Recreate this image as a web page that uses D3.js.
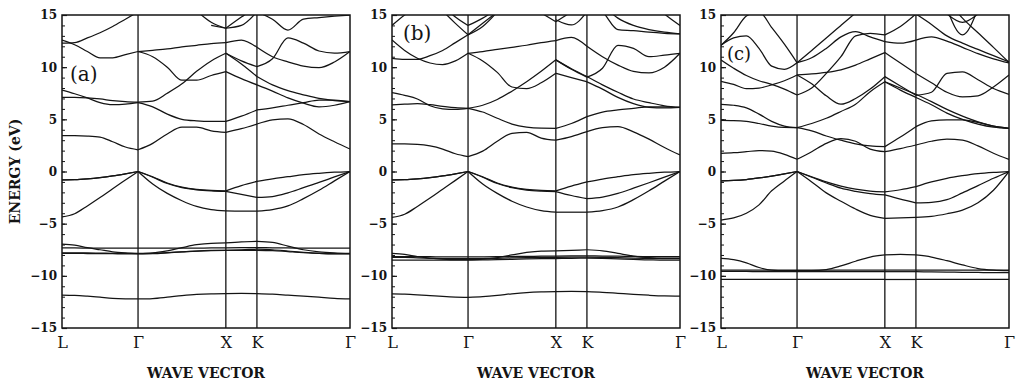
<!DOCTYPE html>
<html>
<head>
<meta charset="utf-8">
<script src="https://cdn.jsdelivr.net/npm/d3@7"></script>
<style>
  body { margin: 0; background: #fff; }
  svg { display: block; }
</style>
</head>
<body>
<div id="chart"></div>
<script>
// high-symmetry points along the fcc path L-Γ-X-K-Γ (path length units)
const kLabels = ["L", "Γ", "X", "K", "Γ"];
const kPos = [0, 0.866, 1.866, 2.220, 3.280];
// sample points the bands were read at
const kGrid = [0, 0.144, 0.289, 0.433, 0.577, 0.722, 0.866,
               1.033, 1.199, 1.366, 1.533, 1.699, 1.866,
               2.043, 2.220,
               2.397, 2.573, 2.750, 2.927, 3.103, 3.280];
const segments = [[0, 6], [6, 12], [12, 14], [14, 20]];
const yTicks = [-15, -10, -5, 0, 5, 10, 15];
const panelNames = ["(a)", "(b)", "(c)"];
const _ = null;

// panel (a) bands, eV
const bandsA = [
  [-0.8,-0.78,-0.7,-0.58,-0.42,-0.22,0, -0.5,-1.1,-1.5,-1.72,-1.82,-1.85, -1.35,-0.95, -0.7,-0.5,-0.3,-0.17,-0.07,0],
  [-0.8,-0.78,-0.7,-0.58,-0.42,-0.22,0, -0.55,-1.15,-1.55,-1.75,-1.85,-1.9, -2.2,-2.48, -2.4,-2.05,-1.55,-1.05,-0.52,0],
  [-4.35,-4.05,-3.3,-2.5,-1.65,-0.82,0, -1.2,-2.1,-2.8,-3.35,-3.65,-3.78, -3.8,-3.8, -3.65,-3.3,-2.6,-1.8,-0.9,0],
  [-6.95,-7.05,-7.3,-7.5,-7.7,-7.8,-7.85, -7.8,-7.6,-7.3,-7.02,-6.88,-6.85, -6.75,-6.7, -6.8,-7.15,-7.5,-7.7,-7.8,-7.85],
  [-7.33,-7.33,-7.34,-7.35,-7.35,-7.35,-7.35, -7.35,-7.35,-7.35,-7.34,-7.33,-7.32, -7.3,-7.3, -7.31,-7.33,-7.34,-7.35,-7.35,-7.35],
  [-7.85,-7.85,-7.86,-7.87,-7.88,-7.9,-7.9, -7.88,-7.8,-7.7,-7.62,-7.57,-7.55, -7.5,-7.45, -7.5,-7.62,-7.75,-7.85,-7.9,-7.9],
  [-7.8,-7.8,-7.8,-7.82,-7.84,-7.85,-7.86, -7.84,-7.78,-7.7,-7.62,-7.58,-7.57, -7.55,-7.55, -7.58,-7.68,-7.78,-7.84,-7.87,-7.88],
  [-11.84,-11.87,-11.95,-12.05,-12.15,-12.2,-12.22, -12.18,-12.05,-11.9,-11.78,-11.72,-11.7, -11.68,-11.7, -11.75,-11.85,-11.95,-12.05,-12.15,-12.2],
  [3.43,3.43,3.4,3.3,2.85,2.35,2.08, 2.7,3.6,4.25,4.25,3.9,3.76, 4.1,4.55, 4.95,5.05,4.5,3.6,2.85,2.15],
  [7.8,7.45,7.05,6.6,6.4,6.45,6.6, 6.2,5.5,5.0,4.85,4.8,4.8, 5.3,5.9, 6.1,6.35,6.6,6.85,6.85,6.7],
  [7.1,7.1,7.05,6.95,6.8,6.7,6.65, 6.75,7.5,8.4,9.6,10.6,11.33, 10.3,9.1, 8.3,7.75,7.35,7.0,6.8,6.7],
  [12.6,12.15,11.5,10.9,10.9,11.2,11.5, 11.0,10.0,8.75,8.75,9.2,9.57, 8.9,8.3, 7.7,7.05,6.55,6.2,6.35,6.7],
  [_,_,_,_,_,_,11.5, 11.62,11.75,11.95,12.1,12.25,12.35, 12.6,11.9, 11.0,10.5,10.1,9.95,10.5,11.5],
  [_,_,_,_,_,_,_, _,_,_,_,_,11.33, 10.6,10.05, 10.8,12.8,12.3,11.55,11.35,11.5],
  [12.3,12.35,12.8,13.3,13.9,14.6,15.3, _,_,_,_,_,_, _,_, _,_,_,_,_,_],
  [_,_,_,_,_,_,_, _,_,_,15.4,14.3,13.73, 14.0,15.3, _,_,_,_,_,_],
  [_,_,_,_,_,_,_, _,_,_,_,14.0,13.73, 14.8,15.8, _,_,_,_,_,_],
  [_,_,_,_,_,_,_, _,_,_,_,_,_, _,15.3, 14.6,13.55,14.6,14.75,14.88,15.0]
];

// panel (b) bands, eV
const bandsB = [
  [-0.8,-0.78,-0.7,-0.58,-0.42,-0.22,0, -0.5,-1.1,-1.5,-1.72,-1.82,-1.85, -1.4,-1.0, -0.72,-0.5,-0.3,-0.17,-0.07,0],
  [-0.8,-0.78,-0.7,-0.58,-0.42,-0.22,0, -0.55,-1.15,-1.55,-1.78,-1.88,-1.92, -2.3,-2.6, -2.45,-2.1,-1.6,-1.08,-0.54,0],
  [-4.4,-4.1,-3.35,-2.55,-1.7,-0.85,0, -1.2,-2.1,-2.85,-3.4,-3.75,-3.9, -3.9,-3.9, -3.75,-3.4,-2.7,-1.85,-0.92,0],
  [-7.85,-7.95,-8.15,-8.3,-8.4,-8.45,-8.45, -8.4,-8.25,-8.0,-7.75,-7.62,-7.6, -7.55,-7.5, -7.6,-7.85,-8.1,-8.25,-8.3,-8.3],
  [-8.15,-8.15,-8.16,-8.17,-8.18,-8.18,-8.18, -8.18,-8.17,-8.15,-8.13,-8.12,-8.1, -8.08,-8.08, -8.1,-8.12,-8.14,-8.15,-8.15,-8.15],
  [-8.5,-8.5,-8.5,-8.5,-8.5,-8.5,-8.5, -8.48,-8.45,-8.42,-8.38,-8.36,-8.35, -8.32,-8.3, -8.33,-8.38,-8.43,-8.47,-8.5,-8.5],
  [-8.22,-8.24,-8.28,-8.32,-8.35,-8.36,-8.36, -8.35,-8.32,-8.28,-8.25,-8.23,-8.22, -8.2,-8.2, -8.22,-8.26,-8.3,-8.33,-8.35,-8.35],
  [-11.74,-11.76,-11.82,-11.9,-11.98,-12.04,-12.06, -12.0,-11.88,-11.72,-11.6,-11.54,-11.52, -11.5,-11.52, -11.58,-11.68,-11.78,-11.86,-11.92,-11.94],
  [2.64,2.64,2.6,2.45,2.15,1.7,1.42, 1.95,2.9,3.65,3.75,3.2,3.0, 3.35,3.82, 4.2,4.3,3.8,3.1,2.3,1.58],
  [7.56,7.3,6.95,6.3,6.0,5.95,6.06, 5.7,5.1,4.55,4.25,4.15,4.14, 4.6,5.26, 5.7,5.9,6.05,6.2,6.2,6.15],
  [6.38,6.45,6.5,6.4,6.25,6.12,6.06, 6.35,6.9,7.7,8.6,9.6,10.7, 9.85,9.1, 8.3,7.6,6.95,6.6,6.3,6.15],
  [12.6,11.6,10.85,10.4,10.25,10.6,11.33, 10.6,9.5,8.1,7.95,8.5,9.41, 9.0,8.6, 7.9,7.1,6.5,6.15,6.1,6.15],
  [_,_,_,_,_,_,11.33, 11.5,11.7,11.9,12.1,12.35,12.55, 12.85,12.0, 11.0,10.2,9.6,9.45,10.0,11.33],
  [_,_,_,_,_,_,_, _,_,_,_,_,10.7, 9.8,9.05, 9.9,12.1,11.8,11.0,11.15,11.33],
  [14.0,15.0,15.8,_,_,_,_, _,_,_,_,_,_, _,_, _,_,_,_,_,_],
  [10.85,10.75,10.75,11.1,11.6,12.35,13.1, 14.2,15.3,_,_,_,_, _,_, _,_,_,_,_,_],
  [_,_,_,_,15.4,14.2,13.1, 13.9,15.3,_,_,_,_, _,_, _,_,_,_,_,_],
  [_,_,_,_,16.0,14.8,14.0, 14.7,15.6,_,_,_,_, _,_, _,_,_,_,_,_],
  [_,_,_,_,_,_,_, _,_,_,_,15.2,14.35, 15.3,_, _,_,_,_,_,_],
  [_,_,_,_,_,_,_, _,_,_,_,_,14.55, 14.05,15.3, _,_,_,_,_,_],
  [_,_,_,_,_,_,_, _,_,_,_,_,_, _,16.0, 15.3,13.6,13.5,13.35,13.25,13.2],
  [_,_,_,_,_,_,_, _,_,_,_,_,_, _,_, 16.0,14.7,14.0,13.6,13.35,13.2],
  [_,_,_,_,_,_,_, _,_,_,_,_,_, _,_, _,_,_,16.5,15.1,14.0]
];

// panel (c) bands, eV
const bandsC = [
  [-0.9,-0.86,-0.77,-0.62,-0.44,-0.23,0, -0.5,-1.0,-1.4,-1.7,-1.88,-1.95, -1.75,-1.45, -1.0,-0.65,-0.4,-0.2,-0.08,0],
  [-0.9,-0.86,-0.77,-0.62,-0.44,-0.23,0, -0.55,-1.1,-1.6,-1.9,-2.12,-2.25, -2.65,-3.0, -2.95,-2.7,-2.05,-1.35,-0.65,0],
  [-4.65,-4.45,-4.0,-3.2,-1.85,-0.9,0, -1.0,-2.05,-2.85,-3.6,-4.2,-4.49, -4.45,-4.39, -4.3,-4.05,-3.7,-3.0,-1.8,0],
  [-8.33,-8.45,-8.75,-9.2,-9.45,-9.5,-9.5, -9.5,-9.4,-9.05,-8.6,-8.2,-8.0, -7.95,-8.0, -8.2,-8.55,-8.95,-9.3,-9.45,-9.5],
  [-9.45,-9.45,-9.45,-9.45,-9.45,-9.45,-9.45, -9.45,-9.45,-9.45,-9.45,-9.45,-9.45, -9.45,-9.45, -9.45,-9.45,-9.45,-9.45,-9.45,-9.45],
  [-9.58,-9.58,-9.58,-9.6,-9.6,-9.6,-9.6, -9.6,-9.6,-9.6,-9.6,-9.6,-9.6, -9.6,-9.6, -9.62,-9.64,-9.66,-9.68,-9.7,-9.7],
  [-10.35,-10.35,-10.35,-10.35,-10.35,-10.35,-10.35, -10.35,-10.35,-10.35,-10.35,-10.35,-10.35, -10.35,-10.35, -10.35,-10.35,-10.35,-10.35,-10.35,-10.35],
  [1.74,1.8,1.9,2.0,1.95,1.65,1.17, 1.9,2.7,3.15,2.9,2.15,1.9, 2.2,2.54, 2.9,3.1,3.0,2.45,1.75,1.15],
  [4.9,4.88,4.8,4.6,4.35,4.22,4.2, 3.9,3.4,3.0,2.65,2.45,2.38, 3.3,4.3, 4.85,4.95,4.95,4.7,4.35,4.14],
  [6.44,6.35,6.1,5.5,4.8,4.35,4.2, 4.6,5.1,5.75,6.45,7.65,8.6, 8.0,7.4, 6.7,5.95,5.3,4.75,4.35,4.14],
  [_,_,_,_,_,_,_, _,_,_,_,_,8.6, 7.8,7.1, 6.4,5.6,5.0,4.55,4.25,4.14],
  [10.69,9.9,9.2,8.7,8.35,7.9,7.33, 8.0,9.4,11.0,13.0,13.25,13.09, 13.9,15.1, 14.1,13.0,12.3,11.7,11.1,10.5],
  [8.65,8.35,7.95,8.0,8.3,8.7,9.25, 8.4,7.25,6.45,7.0,7.9,9.09, 8.2,7.3, 7.6,9.4,9.55,8.8,7.95,7.4],
  [12.1,12.8,13.0,11.8,10.1,9.8,10.43, 10.9,11.8,12.9,13.4,12.9,12.45, 12.3,12.6, 12.9,12.5,11.9,11.3,10.8,10.4],
  [12.1,13.3,14.9,15.3,13.8,12.2,10.43, 11.6,12.8,14.0,15.2,_,_, _,_, _,_,_,_,_,_],
  [_,_,_,_,_,_,9.25, 9.35,9.5,9.75,10.2,10.8,11.4, 10.4,9.4, 8.5,7.6,7.15,7.25,8.1,9.25],
  [_,_,_,_,_,_,_, _,_,_,_,_,_, _,_, _,16.5,14.7,13.3,11.9,10.45],
  [_,_,_,_,_,_,_, _,_,_,_,_,_, _,_, _,15.6,13.1,15.6,_,_],
  [_,_,_,_,_,_,_, _,_,_,_,_,_, _,_, _,15.1,14.3,15.1,_,_]
];

const allBands = [bandsA, bandsB, bandsC];

const width = 1016, height = 383;
const panelLeft = [62, 392, 721];
const panelWidth = 288;
const plotTop = 15, plotBottom = 328;
const ink = "#141414";

const svg = d3.select("#chart").append("svg")
    .attr("width", width)
    .attr("height", height)
    .style("font-family", "'DejaVu Serif', serif");

const x = d3.scaleLinear().domain([0, kPos[kPos.length - 1]]).range([0, panelWidth]);
const y = d3.scaleLinear().domain([-15, 15]).range([plotBottom, plotTop]);

const line = d3.line()
    .defined(d => d[1] != null)
    .x(d => x(d[0]))
    .y(d => y(d[1]))
    .curve(d3.curveMonotoneX);

allBands.forEach((bands, p) => {
    const g = svg.append("g").attr("transform", `translate(${panelLeft[p]},0)`);

    g.append("clipPath").attr("id", "clip" + p)
        .append("rect")
        .attr("x", 0).attr("y", plotTop)
        .attr("width", panelWidth).attr("height", plotBottom - plotTop);

    // bands, one path per segment so kinks stay at the symmetry points
    const bandG = g.append("g").attr("clip-path", `url(#clip${p})`);
    bands.forEach(b => {
        segments.forEach(([s, e]) => {
            const pts = kGrid.slice(s, e + 1).map((k, j) => [k, b[s + j]]);
            if (pts.filter(d => d[1] != null).length < 2) return;
            bandG.append("path")
                .attr("d", line(pts))
                .attr("fill", "none")
                .attr("stroke", ink)
                .attr("stroke-width", 1.25);
        });
    });

    // vertical lines at Γ, X, K
    g.selectAll("line.sym")
        .data(kPos.slice(1, -1))
        .enter().append("line")
        .attr("x1", d => x(d)).attr("x2", d => x(d))
        .attr("y1", plotTop).attr("y2", plotBottom)
        .attr("stroke", ink)
        .attr("stroke-width", 1.3);

    // frame
    g.append("rect")
        .attr("x", 0).attr("y", plotTop)
        .attr("width", panelWidth).attr("height", plotBottom - plotTop)
        .attr("fill", "none")
        .attr("stroke", ink)
        .attr("stroke-width", 1.5);

    // minor ticks every 1 eV
    const minor = g.append("g").call(d3.axisLeft(y).ticks(30).tickSize(-3).tickFormat(""));
    minor.select(".domain").remove();
    minor.selectAll("line").attr("stroke", ink);

    // major ticks and labels
    const yAxis = g.append("g").call(d3.axisLeft(y).tickValues(yTicks).tickSize(-5).tickPadding(5));
    yAxis.select(".domain").remove();
    yAxis.selectAll("line").attr("stroke", ink).attr("stroke-width", 1.2);
    yAxis.selectAll("text")
        .style("font-family", "'DejaVu Serif', serif")
        .style("font-size", "12px")
        .style("font-weight", "bold")
        .attr("fill", ink);

    // k-point labels
    const xAxis = g.append("g")
        .attr("transform", `translate(0,${plotBottom + 9})`)
        .call(d3.axisBottom(x).tickValues(kPos).tickFormat((d, i) => kLabels[i]).tickSize(0).tickPadding(0));
    xAxis.select(".domain").remove();
    xAxis.selectAll("text")
        .style("font-family", "'DejaVu Serif', serif")
        .style("font-size", "16px")
        .attr("fill", ink);

    // x-axis title
    g.append("text")
        .attr("x", panelWidth / 2)
        .attr("y", 378)
        .attr("text-anchor", "middle")
        .style("font-size", "14px")
        .style("font-weight", "bold")
        .attr("fill", ink)
        .text("WAVE VECTOR");
});

// panel letters
const letterPos = [[70, 81, 20], [403, 40, 20], [727, 60, 18]];
panelNames.forEach((name, i) => {
    svg.append("text")
        .attr("x", letterPos[i][0])
        .attr("y", letterPos[i][1])
        .style("font-size", letterPos[i][2] + "px")
        .attr("fill", ink)
        .text(name);
});

// y-axis title
svg.append("text")
    .attr("transform", `translate(20,${(plotTop + plotBottom) / 2}) rotate(-90)`)
    .attr("text-anchor", "middle")
    .style("font-size", "14px")
    .style("font-weight", "bold")
    .attr("fill", ink)
    .text("ENERGY (eV)");
</script>
</body>
</html>
